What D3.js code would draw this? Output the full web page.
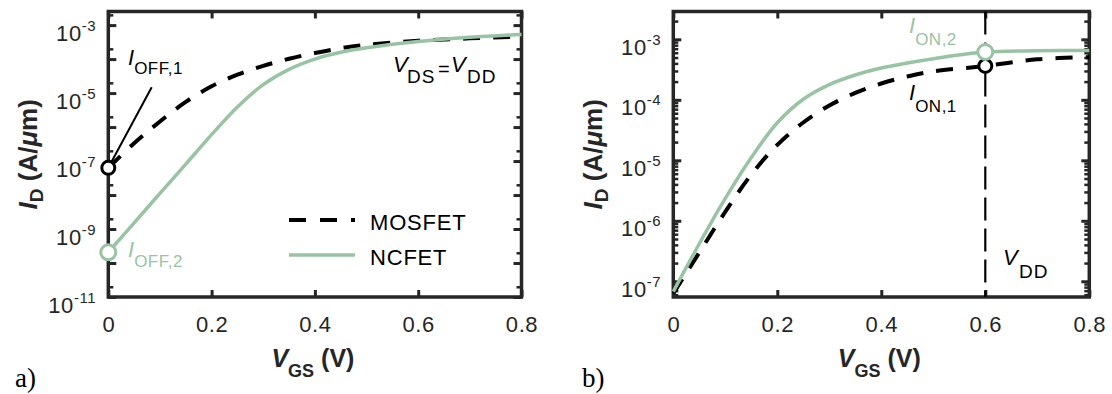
<!DOCTYPE html>
<html>
<head>
<meta charset="utf-8">
<script src="https://cdn.jsdelivr.net/npm/d3@7"></script>
<style>
  body { margin: 0; background: #fff; }
  svg { display: block; font-family: "Liberation Sans", Arial, Helvetica, sans-serif; }
</style>
</head>
<body>
<svg id="fig" width="1112" height="394"></svg>
<script>
// Gate voltage samples (V)
const vgs = [0, 0.05, 0.1, 0.15, 0.2, 0.25, 0.3, 0.35, 0.4, 0.45, 0.5, 0.6, 0.7, 0.8];

// Panel a: transfer curves at V_DS = V_DD (A/um)
const mosfetA = [6.3e-8, 3.35e-7, 1.46e-6, 5.5e-6, 1.58e-5, 3.47e-5, 6.3e-5, 1.02e-4, 1.51e-4, 2.09e-4, 2.63e-4, 3.47e-4, 4.07e-4, 4.57e-4];
const ncfetA  = [2.07e-10, 1.51e-9, 1.12e-8, 8.1e-8, 6.0e-7, 3.9e-6, 1.78e-5, 5.0e-5, 1.0e-4, 1.58e-4, 2.14e-4, 3.27e-4, 4.37e-4, 5.3e-4];

// Panel b: transfer curves with matched low-end current (A/um)
const mosfetB = [6.3e-8, 2.99e-7, 1.41e-6, 5.82e-6, 1.8e-5, 4.22e-5, 8.04e-5, 1.3e-4, 1.86e-4, 2.43e-4, 2.95e-4, 3.63e-4, 4.68e-4, 5.07e-4];
const ncfetB  = [6.76e-8, 4.17e-7, 2.34e-6, 1.11e-5, 4.17e-5, 1.02e-4, 1.78e-4, 2.57e-4, 3.35e-4, 4.07e-4, 4.79e-4, 6.17e-4, 6.46e-4, 6.53e-4];

// Axis ticks
const xTicks  = [0, 0.2, 0.4, 0.6, 0.8];
const yTicksA = [1e-11, 1e-9, 1e-7, 1e-5, 1e-3];
const yTicksB = [1e-7, 1e-6, 1e-5, 1e-4, 1e-3];
const seriesNames = ["MOSFET", "NCFET"];
const vdd = 0.6;

const AX = "#262626";
const GREEN = "#99c4a3";
const TOP = 11.5, BOTTOM = 297;
const svg = d3.select("#fig");

svg.append("rect").attr("width", 1112).attr("height", 394).attr("fill", "#fff");

function styleAxis(sel, width) {
  sel.select(".domain").remove();
  sel.selectAll(".tick line").attr("stroke", AX).attr("stroke-width", width);
  sel.attr("font-family", null).attr("font-size", 22);
  sel.selectAll(".tick text").attr("fill", AX).attr("letter-spacing", 0.6);
}

function buildPanel(cfg) {
  const x = d3.scaleLinear().domain([0, 0.8]).range([cfg.x0, cfg.x1]);
  const y = d3.scaleLog().domain(cfg.yDom).range([BOTTOM, TOP]);
  const g = svg.append("g");

  const lo = Math.ceil(Math.log10(cfg.yDom[0]) - 1e-9);
  const hi = Math.floor(Math.log10(cfg.yDom[1]) + 1e-9);
  const decades = d3.range(lo, hi + 1).map(k => Math.pow(10, k));
  const isLabelled = d => cfg.yTicks.some(v => Math.abs(Math.log10(v) - Math.log10(d)) < 1e-6);
  const minors = [];
  for (let k = lo - 1; k <= hi; k++) {
    cfg.minorMult.forEach(m => {
      const v = m * Math.pow(10, k);
      if (v > cfg.yDom[0] && v < cfg.yDom[1]) minors.push(v);
    });
  }

  const axes = g.append("g");
  // bottom
  const bx = axes.append("g").attr("transform", `translate(0,${BOTTOM})`)
    .call(d3.axisBottom(x).tickValues(xTicks).tickSize(-7).tickFormat(d => String(d)));
  styleAxis(bx, 3);
  bx.selectAll(".tick text").attr("dy", 0).attr("y", 35);
  // top
  const tx = axes.append("g").attr("transform", `translate(0,${TOP})`)
    .call(d3.axisTop(x).tickValues(xTicks).tickSize(-7).tickFormat(() => ""));
  styleAxis(tx, 3);
  // left major
  const ly = axes.append("g").attr("transform", `translate(${cfg.x0},0)`)
    .call(d3.axisLeft(y).tickValues(decades).tickSize(-8).tickPadding(12).tickFormat(() => ""));
  styleAxis(ly, 3);
  ly.selectAll(".tick text").each(function (d) {
    const t = d3.select(this).attr("dy", 0).attr("y", 15);
    if (!isLabelled(d)) return;
    t.append("tspan").text("10");
    t.append("tspan").attr("dy", -10).attr("font-size", 15).text(String(Math.round(Math.log10(d))));
  });
  // left minor
  const lm = axes.append("g").attr("transform", `translate(${cfg.x0},0)`)
    .call(d3.axisLeft(y).tickValues(minors).tickSize(-5).tickFormat(() => ""));
  styleAxis(lm, 2.5);
  // right major/minor
  const ry = axes.append("g").attr("transform", `translate(${cfg.x1},0)`)
    .call(d3.axisRight(y).tickValues(decades).tickSize(-8).tickFormat(() => ""));
  styleAxis(ry, 3);
  const rm = axes.append("g").attr("transform", `translate(${cfg.x1},0)`)
    .call(d3.axisRight(y).tickValues(minors).tickSize(-5).tickFormat(() => ""));
  styleAxis(rm, 2.5);

  // box
  axes.append("rect")
    .attr("x", cfg.x0).attr("y", TOP)
    .attr("width", cfg.x1 - cfg.x0).attr("height", BOTTOM - TOP)
    .attr("fill", "none").attr("stroke", AX).attr("stroke-width", 3.5);

  // axis titles
  const xt = g.append("text")
    .attr("x", (cfg.x0 + cfg.x1) / 2 - 2).attr("y", 367)
    .attr("text-anchor", "middle").attr("font-weight", "bold").attr("font-size", 25).attr("fill", AX);
  xt.append("tspan").attr("font-style", "italic").text("V");
  xt.append("tspan").attr("font-size", 18).attr("dy", 10).text("GS");
  xt.append("tspan").attr("dy", -10).text(" (V)");

  const yt = g.append("text")
    .attr("transform", `translate(${cfg.x0 - 71},${(TOP + BOTTOM) / 2}) rotate(-90)`)
    .attr("text-anchor", "middle").attr("font-weight", "bold").attr("font-size", 26).attr("fill", AX);
  yt.append("tspan").attr("font-style", "italic").text("I");
  yt.append("tspan").attr("font-size", 19).attr("dy", 6).text("D");
  yt.append("tspan").attr("dy", -6).text(" (A/");
  yt.append("tspan").attr("font-style", "italic").text("\u03bc");
  yt.append("tspan").text("m)");

  // panel tag
  g.append("text").attr("x", cfg.tagX).attr("y", 387)
    .attr("font-family", "'Liberation Serif', 'Times New Roman', serif")
    .attr("font-size", 27).attr("fill", "#000").text(cfg.tag);

  // curves
  const pts = arr => vgs.map((v, i) => ({ v, i: arr[i] }));
  const line = d3.line().x(d => x(d.v)).y(d => y(d.i)).curve(d3.curveCatmullRom.alpha(0.5));
  const curves = g.append("g");
  curves.append("path").datum(pts(cfg.mos)).attr("d", line)
    .attr("fill", "none").attr("stroke", "#000").attr("stroke-width", 4)
    .attr("stroke-dasharray", "17,13");
  curves.append("path").datum(pts(cfg.nc)).attr("d", line)
    .attr("fill", "none").attr("stroke", GREEN).attr("stroke-width", 3.5);

  return { g, x, y };
}

function subLabel(g, x, y, main, sub, color, drop) {
  const t = g.append("text").attr("x", x).attr("y", y).attr("fill", color).attr("font-size", 22);
  t.append("tspan").attr("font-style", "italic").text(main);
  t.append("tspan").attr("font-size", 17).attr("dy", drop).attr("letter-spacing", 0.5).text(sub);
  return t;
}

// ---------- Panel a ----------
const A = buildPanel({
  x0: 108.3, x1: 521.5, yDom: [1e-11, Math.pow(10, -2.6)],
  mos: mosfetA, nc: ncfetA, yTicks: yTicksA, minorMult: [2], tag: "a)", tagX: 15
});

// I_OFF markers at V_GS = 0
const offMos = { cx: A.x(vgs[0]), cy: A.y(mosfetA[0]) };
const offNc  = { cx: A.x(vgs[0]), cy: A.y(ncfetA[0]) };

// leader from the I_OFF,1 label down to its marker
const lx = 151.7, lyy = 87.3;
const dx = offMos.cx - lx, dy = offMos.cy - lyy, len = Math.hypot(dx, dy);
A.g.append("line")
  .attr("x1", lx).attr("y1", lyy)
  .attr("x2", offMos.cx - dx / len * 8).attr("y2", offMos.cy - dy / len * 8)
  .attr("stroke", "#000").attr("stroke-width", 2);

A.g.append("circle").attr("cx", offMos.cx).attr("cy", offMos.cy).attr("r", 6.5)
  .attr("fill", "#fff").attr("stroke", "#000").attr("stroke-width", 3);
A.g.append("circle").attr("cx", offNc.cx).attr("cy", offNc.cy).attr("r", 7.5)
  .attr("fill", "#fff").attr("stroke", GREEN).attr("stroke-width", 3);

subLabel(A.g, 128, 65, "I", "OFF,1", "#000", 9);
subLabel(A.g, 128, 257, "I", "OFF,2", GREEN, 10);

// V_DS = V_DD condition
const cond = A.g.append("g").attr("fill", "#000");
cond.append("text").attr("x", 393).attr("y", 72).attr("font-size", 22).attr("font-style", "italic").text("V");
cond.append("text").attr("x", 407).attr("y", 83).attr("font-size", 19).attr("letter-spacing", 1).text("DS");
cond.append("text").attr("x", 438).attr("y", 76).attr("font-size", 20).text("=");
cond.append("text").attr("x", 451).attr("y", 72).attr("font-size", 22).attr("font-style", "italic").text("V");
cond.append("text").attr("x", 467).attr("y", 83).attr("font-size", 19).attr("letter-spacing", 1).text("DD");

// legend
const leg = A.g.append("g");
const legRows = [
  { name: seriesNames[0], y: 220, stroke: "#000", w: 4, dash: "17,14" },
  { name: seriesNames[1], y: 255, stroke: GREEN, w: 3.5, dash: null }
];
legRows.forEach(r => {
  leg.append("line").attr("x1", 289).attr("x2", 355).attr("y1", r.y).attr("y2", r.y)
    .attr("stroke", r.stroke).attr("stroke-width", r.w).attr("stroke-dasharray", r.dash);
  leg.append("text").attr("x", 370).attr("y", r.y + 9.5).attr("font-size", 22)
    .attr("letter-spacing", 0.8).attr("fill", "#000").text(r.name);
});

// ---------- Panel b ----------
const B = buildPanel({
  x0: 673.3, x1: 1089.3, yDom: [Math.pow(10, -7.26), Math.pow(10, -2.54)],
  mos: mosfetB, nc: ncfetB, yTicks: yTicksB, minorMult: [2, 3, 4, 5, 6, 7, 8, 9], tag: "b)", tagX: 582
});

// supply-voltage marker line
B.g.append("line")
  .attr("x1", B.x(vdd)).attr("x2", B.x(vdd)).attr("y1", TOP).attr("y2", BOTTOM)
  .attr("stroke", "#000").attr("stroke-width", 2.2).attr("stroke-dasharray", "23,8");

const iv = vgs.indexOf(vdd);
B.g.append("circle").attr("cx", B.x(vdd)).attr("cy", B.y(mosfetB[iv])).attr("r", 6.5)
  .attr("fill", "#fff").attr("stroke", "#000").attr("stroke-width", 3);
B.g.append("circle").attr("cx", B.x(vdd)).attr("cy", B.y(ncfetB[iv])).attr("r", 7.5)
  .attr("fill", "#fff").attr("stroke", GREEN).attr("stroke-width", 3);

subLabel(B.g, 909, 33, "I", "ON,2", GREEN, 12);
subLabel(B.g, 909, 100, "I", "ON,1", "#000", 12);
const vddLbl = B.g.append("g").attr("fill", "#000");
vddLbl.append("text").attr("x", 1003).attr("y", 265).attr("font-size", 22).attr("font-style", "italic").text("V");
vddLbl.append("text").attr("x", 1019).attr("y", 278).attr("font-size", 19).attr("letter-spacing", 1).text("DD");
</script>
</body>
</html>
